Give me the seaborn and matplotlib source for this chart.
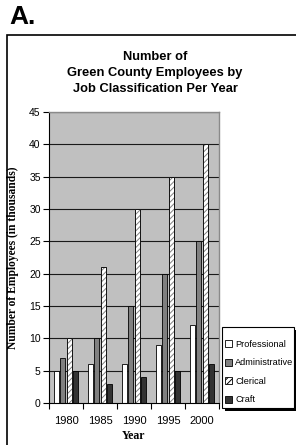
import matplotlib
matplotlib.use("Agg")
import matplotlib.pyplot as plt
import matplotlib.patches as mpatches
import seaborn as sns
import pandas as pd
import numpy as np

years = ["1980", "1985", "1990", "1995", "2000"]
professional = [5, 6, 6, 9, 12]
administrative = [7, 10, 15, 20, 25]
clerical = [10, 21, 30, 35, 40]
craft = [5, 3, 4, 5, 6]
series_names = ["Professional", "Administrative", "Clerical", "Craft"]
colors = ["#ffffff", "#808080", "#ffffff", "#333333"]

df = pd.DataFrame({
    "Year": years * 4,
    "Value": professional + administrative + clerical + craft,
    "Job": [s for s in series_names for _ in years],
})

sns.set_style("white")
plt.rcParams["font.family"] = ["Liberation Sans", "DejaVu Sans"]
plt.rcParams["text.color"] = "black"
plt.rcParams["axes.labelcolor"] = "black"
plt.rcParams["xtick.color"] = "black"
plt.rcParams["ytick.color"] = "black"
plt.rcParams["hatch.linewidth"] = 0.7

fig = plt.figure(figsize=(2.96, 4.45), dpi=100)
ax = fig.add_axes([49/296, 1-403/445, 170/296, 291/445])
ax.set_facecolor("#c0c0c0")

sns.barplot(data=df, x="Year", y="Value", hue="Job", hue_order=series_names,
            palette=colors, edgecolor="black", linewidth=0.6,
            width=0.77, gap=0.25, ax=ax, legend=False, saturation=1)

for bar in ax.containers[2]:
    bar.set_hatch("//////")
    bar.set_edgecolor("#808080")
    x0, y0 = bar.get_xy()
    ax.add_patch(mpatches.Rectangle((x0, y0), bar.get_width(), bar.get_height(),
                                    fill=False, edgecolor="black", linewidth=0.6, zorder=bar.get_zorder() + 0.1))

ax.set_ylim(0, 45)
ax.set_xlim(-0.5, 4.5)
ax.set_yticks(np.arange(0, 46, 5))
for yv in range(5, 46, 5):
    ax.axhline(yv, color="#1a1a1a", linewidth=0.8, zorder=0.5)
ax.set_axisbelow(True)

ax.tick_params(axis="y", direction="out", length=4, width=0.8, labelsize=7.5, pad=2, left=True)
ax.set_xticks(range(5))
ax.set_xticklabels(years)
ax.set_xticks(np.arange(-0.5, 5, 1), minor=True)
ax.tick_params(axis="x", which="major", length=0, labelsize=8, pad=9)
ax.tick_params(axis="x", which="minor", direction="out", length=4, width=0.8, bottom=True)

for s in ["left", "bottom"]:
    ax.spines[s].set_color("black")
    ax.spines[s].set_linewidth(0.8)
for s in ["top", "right"]:
    ax.spines[s].set_color("#8a8a8a")
    ax.spines[s].set_linewidth(1.0)

ax.set_xlabel("Year", family=["Liberation Serif"], fontweight="bold", fontsize=8.5, labelpad=3)
ax.set_ylabel("Number of Employees (in thousands)", family=["Liberation Serif"],
              fontweight="bold", fontsize=8.3, labelpad=7)

# legend frame with hard shadow
lx0, ly_top, lx1, ly_bot = 222, 327, 294, 408
fig.add_artist(mpatches.Rectangle(((lx0 + 3)/296, 1-(ly_bot + 3)/445), (lx1-lx0)/296, (ly_bot-ly_top)/445,
                                  transform=fig.transFigure, facecolor="black", edgecolor="none", zorder=5))
fig.add_artist(mpatches.Rectangle((lx0/296, 1-ly_bot/445), (lx1-lx0)/296, (ly_bot-ly_top)/445,
                                  transform=fig.transFigure, facecolor="white", edgecolor="black",
                                  linewidth=0.8, zorder=6))

handles = [mpatches.Patch(facecolor=colors[i], edgecolor="black", linewidth=0.6,
                          hatch="//////" if i == 2 else None, label=series_names[i])
           for i in range(4)]
leg = fig.legend(handles=handles, loc="upper left", bbox_to_anchor=(225/296, 1-340/445),
                 fontsize=6.6, frameon=False, handlelength=0.8, handleheight=0.8,
                 handletextpad=0.3, labelspacing=1.03, borderpad=0, borderaxespad=0)
leg.set_zorder(7)

fig.text(155/296, 1-73/445, "Number of\nGreen County Employees by\nJob Classification Per Year",
         ha="center", va="center", fontsize=9.3, fontweight="bold", linespacing=1.5)
fig.text(9/296, 1-17/445, "A.", ha="left", va="center", fontsize=19, fontweight="bold")

border = mpatches.Rectangle((7/296, -0.05), 1.2, 0.05 + 1-35/445, transform=fig.transFigure,
                            fill=False, edgecolor="black", linewidth=1.2, clip_on=False)
fig.add_artist(border)

fig.savefig("out.png", dpi=100)
